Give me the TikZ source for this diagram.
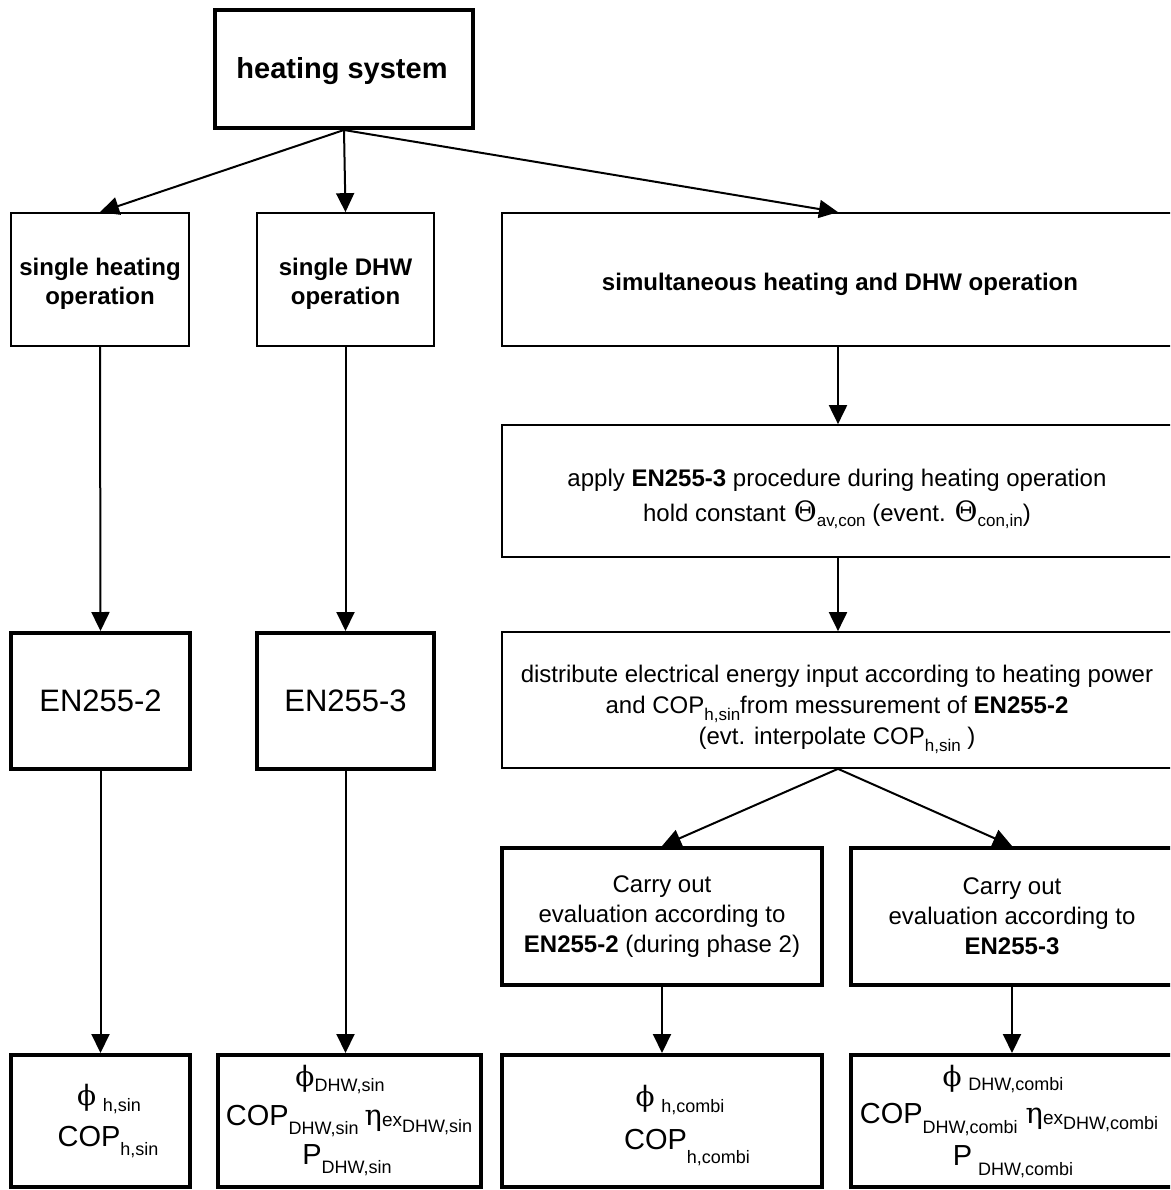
\documentclass[tikz,border=0pt]{standalone}
\usepackage{fontspec}
\setmainfont{Liberation Sans}
\newfontfamily\grk{DejaVu Serif}
\usetikzlibrary{arrows.meta}
\newcommand{\fsz}[2]{\fontsize{#1}{#2}\selectfont}
\newcommand{\lsub}[3][18]{\raisebox{#2}{\fsz{#1}{#1}#3}}
\begin{document}
\begin{tikzpicture}[x=1pt,y=-1pt,
  box/.style={draw, inner sep=0pt, align=center, font=\fsz{24}{29}},
  thinbox/.style={box, line width=1.7pt},
  thickbox/.style={box, line width=4pt},
  txt/.style={inner sep=0pt, align=center, font=\fsz{24}{29}},
  arr/.style={-{Triangle[length=19pt,width=18pt]}, line width=2pt}]
\useasboundingbox (0,0) rectangle (1170,1190);
\clip (0,0) rectangle (1170,1190);
\fill[white] (0,0) rectangle (1170,1190);

% level 1
\node[thickbox, minimum width=258, minimum height=118, font=\bfseries\fsz{29}{34}] (top) at (344,69) {};
\node[txt, font=\bfseries\fsz{29}{34}] (topT) at (342,71) {heating system};

% level 2
\node[thinbox, minimum width=178, minimum height=133, font=\bfseries\fsz{24}{29}] (A) at (100,279.5) {};
\node[txt, font=\bfseries\fsz{24}{29}] (At) at (100,284) {single heating\\operation};
\node[thinbox, minimum width=177, minimum height=133, font=\bfseries\fsz{24}{29}] (B) at (345.5,279.5) {};
\node[txt, font=\bfseries\fsz{24}{29}] (Bt) at (345.5,284) {single DHW\\operation};
\node[thinbox, minimum width=672, minimum height=133] (C) at (838,279.5) {};
\node[txt, font=\bfseries\fsz{24}{29}] (Ct) at (840,284) {simultaneous heating and DHW operation};

% right column
\node[thinbox, minimum width=672, minimum height=132] (apply) at (838,491) {};
\node[txt, font=\fsz{24}{35}] (applyT) at (837,499) {apply \textbf{EN255-3} procedure during heating operation\\hold constant\hspace{8pt}{\grk\fsz{28}{28}Θ}\lsub[17]{-5pt}{av,con} (event. {\grk\fsz{28}{28}Θ}\lsub[17]{-5pt}{con,in})};

\node[thinbox, minimum width=672, minimum height=136] (dist) at (838,700) {};
\node[txt, font=\fsz{24}{31}] (distT) at (837,709) {distribute electrical energy input according to heating power\\and COP\lsub[17]{-7pt}{h,sin}from messurement of \textbf{EN255-2}\\(evt. interpolate COP\lsub[17]{-7pt}{h,sin} )};

% EN boxes
\node[thickbox, minimum width=179, minimum height=136, font=\fsz{31}{31}] (en2) at (100.5,701) {EN255-2};
\node[thickbox, minimum width=177, minimum height=136, font=\fsz{31}{31}] (en3) at (345.5,701) {EN255-3};

% carry out boxes
\node[thickbox, minimum width=320, minimum height=137, font=\fsz{24}{30}] (carryL) at (662,916.5) {Carry out\\evaluation according to\\\textbf{EN255-2} (during phase 2)};
\node[thickbox, minimum width=322, minimum height=137, font=\fsz{24}{30}] (carryR) at (1012,916.5) {Carry out\\evaluation according to\\\textbf{EN255-3}};

% bottom boxes
\node[thickbox, minimum width=179, minimum height=132] (bot1) at (100.5,1121) {};
\node[thickbox, minimum width=263, minimum height=132] (bot2) at (349.5,1121) {};
\node[thickbox, minimum width=320, minimum height=132] (bot3) at (662,1121) {};
\node[thickbox, minimum width=322, minimum height=132] (bot4) at (1012,1121) {};

\node[txt] (b1r1) at (109,1099) {{\grk\fsz{28}{28}ϕ} \lsub{-6pt}{h,sin}};
\node[txt] (b1r2) at (108,1142) {{\fsz{29}{29}COP}\lsub{-9pt}{h,sin}};

\node[txt] (b2r1) at (340,1080) {{\grk\fsz{28}{28}ϕ}\lsub{-5pt}{DHW,sin}};
\node[txt] (b2r2) at (349,1121) {{\fsz{29}{29}COP}\lsub{-9pt}{DHW,sin}\hspace{6pt}{\grk\fsz{29}{29}η}\lsub[19]{-1pt}{ex}\lsub{-7pt}{DHW,sin}};
\node[txt] (b2r3) at (347,1160) {{\fsz{29}{29}P}\lsub{-9pt}{DHW,sin}};

\node[txt] (b3r1) at (680,1100) {{\grk\fsz{28}{28}ϕ} \lsub{-6pt}{h,combi}};
\node[txt] (b3r2) at (687,1148) {{\fsz{29}{29}COP}\lsub{-14pt}{h,combi}};

\node[txt] (b4r1) at (1003,1079) {{\grk\fsz{28}{28}ϕ} \lsub{-4pt}{DHW,combi}};
\node[txt] (b4r2) at (1009,1120) {{\fsz{29}{29}COP}\lsub{-10pt}{DHW,combi}\hspace{8pt}{\grk\fsz{29}{29}η}\lsub[19]{-1pt}{ex}\lsub{-6pt}{DHW,combi}};
\node[txt] (b4r3) at (1013,1162) {{\fsz{29}{29}P}\hspace{6pt}\lsub{-10pt}{DHW,combi}};

% connectors
\draw[arr] (top.south) -- (A.north);
\draw[arr] (top.south) -- (B.north);
\draw[arr] (top.south) -- (C.north);
\draw[arr] (A.south) -- (en2.north);
\draw[arr] (B.south) -- (en3.north);
\draw[arr] (C.south) -- (apply.north);
\draw[arr] (apply.south) -- (dist.north);
\draw[arr] (dist.south) -- (carryL.north);
\draw[arr] (dist.south) -- (carryR.north);
\draw[arr] (en2.south) -- (bot1.north);
\draw[arr] (en3.south) -- (en3.south |- bot2.north);
\draw[arr] (carryL.south) -- (bot3.north);
\draw[arr] (carryR.south) -- (bot4.north);
\end{tikzpicture}
\end{document}
